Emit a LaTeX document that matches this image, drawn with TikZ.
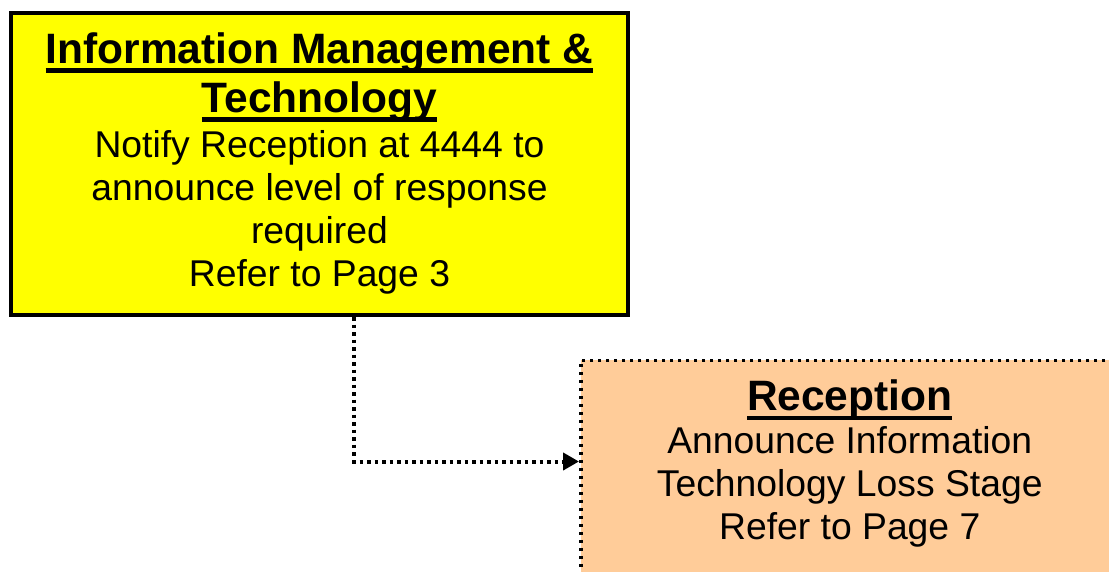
\documentclass[tikz,border=0pt]{standalone}
\usepackage{fontspec}
\setmainfont{Liberation Sans}
\usetikzlibrary{arrows.meta}
\definecolor{peach}{HTML}{FFCC99}
\definecolor{ityellow}{HTML}{FFFF00}
\newcommand\myul[1]{\leavevmode\setbox0\hbox{#1}\rlap{\vrule width\wd0 height -5pt depth 9.5pt}\box0}
\newcommand\titlef{\fontsize{42.5}{49}\selectfont\bfseries\spaceskip=0pt\xspaceskip=0pt\relax}
\newcommand\bodyf{\fontsize{37.3}{43}\selectfont\mdseries\spaceskip=0pt\xspaceskip=0pt\relax}
\begin{document}
\begin{tikzpicture}[x=1pt,y=-1pt,
 boxbase/.style={rectangle, anchor=north west, inner sep=0pt, align=flush center},
 itbox/.style={boxbase, draw=black, line width=4pt, fill=ityellow, text width=617pt, text height=50pt, text depth=252pt},
 recbox/.style={boxbase, draw=black, line width=3.5pt, dash pattern=on 3.5pt off 4.5pt, fill=peach, text width=538pt, text height=50.5pt, text depth=230pt},
 conn/.style={draw=black, line width=4pt, dash pattern=on 3.5pt off 4pt, -{Triangle[length=16pt,width=17pt]}}]
\useasboundingbox (0,0) rectangle (1109,571);
\clip (0,0) rectangle (1109,571);
\node[itbox] (Y) at (9,11) {\titlef\myul{Information Management \&}\\\myul{Technology}\par\vspace{2pt}\bodyf Notify Reception at 4444 to\\announce level of response\\required\\Refer to Page 3\par};
\node[recbox] (R) at (579,358.5) {\titlef\myul{Reception}\par\bodyf Announce Information\\Technology Loss Stage\\Refer to Page 7\par};
\draw[conn] ([xshift=345pt]Y.south west) |- ([yshift=-103pt]R.north west);
\end{tikzpicture}
\end{document}
